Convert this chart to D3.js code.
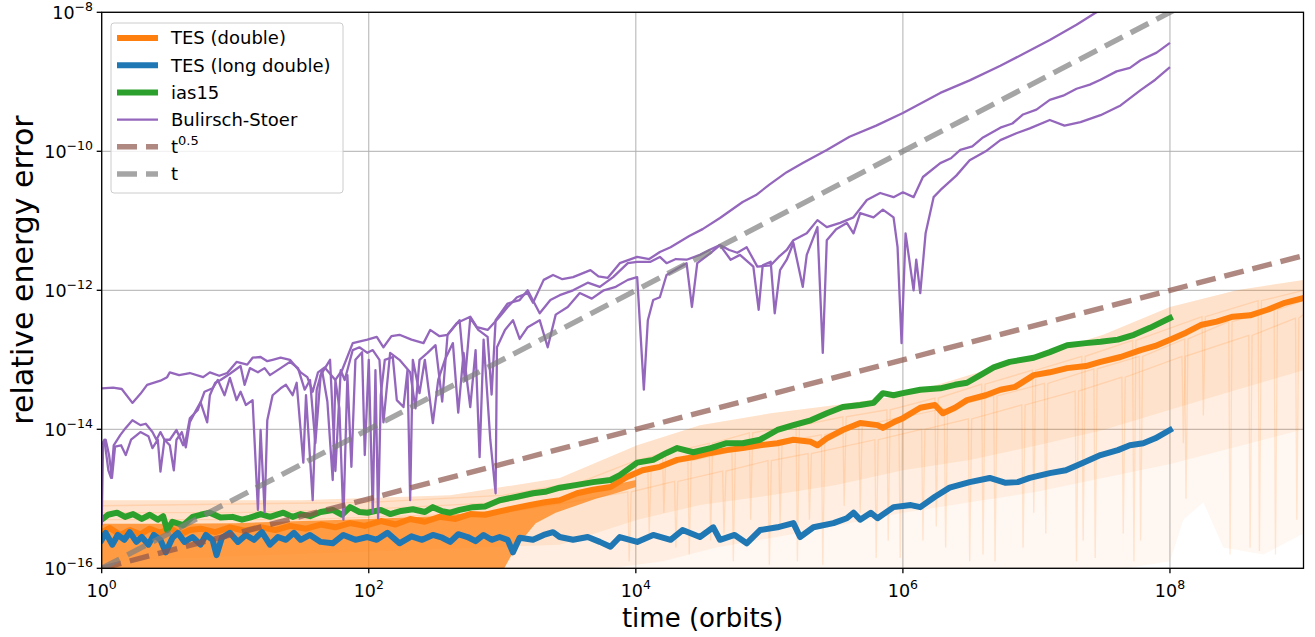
<!DOCTYPE html>
<html>
<head>
<meta charset="utf-8">
<script src="https://cdn.jsdelivr.net/npm/d3@7"></script>
<style>
  body { margin: 0; background: #fff; }
  svg { display: block; font-family: "DejaVu Sans", sans-serif; }
</style>
</head>
<body>
<svg width="1315" height="637"></svg>
<script>
// Data: [log10(time in orbits), log10(relative energy error)]

// Bulirsch-Stoer runs
const bsRun1 = [[0,-13.41],[0.085,-13.40],[0.15,-13.42],[0.23,-13.62],[0.29,-13.49],[0.34,-13.36],[0.44,-13.30],[0.49,-13.25],[0.51,-13.18],[0.58,-13.22],[0.66,-13.19],[0.76,-13.25],[0.81,-13.18],[0.88,-13.23],[0.94,-13.19],[1.01,-13.03],[1.09,-13.07],[1.13,-12.97],[1.19,-12.96],[1.24,-13.02],[1.28,-13.00],[1.34,-12.97],[1.41,-13.00],[1.49,-13.18],[1.54,-13.25],[1.58,-13.46],[1.62,-13.18],[1.67,-13.11],[1.75,-13.29],[1.80,-13.15],[1.88,-12.76],[1.99,-12.71],[2.06,-12.67],[2.11,-12.82],[2.17,-12.66],[2.23,-12.64],[2.32,-12.71],[2.41,-12.76],[2.46,-12.57],[2.53,-12.66],[2.59,-12.64],[2.66,-12.47],[2.76,-12.38],[2.81,-12.53],[2.89,-12.57],[2.98,-12.38],[3.04,-12.24],[3.11,-12.10],[3.19,-12.04],[3.23,-12.18],[3.31,-11.85],[3.38,-11.78],[3.45,-11.84],[3.53,-11.81],[3.66,-11.71],[3.72,-11.80],[3.79,-11.82],[3.88,-11.61],[4.01,-11.52],[4.10,-11.55],[4.18,-11.45],[4.26,-11.38],[4.40,-11.22],[4.50,-11.12],[4.63,-10.96],[4.80,-10.73],[4.90,-10.63],[5.00,-10.48],[5.13,-10.30],[5.25,-10.17],[5.43,-9.98],[5.60,-9.79],[5.80,-9.63],[6.00,-9.45],[6.28,-9.16],[6.50,-8.98],[6.73,-8.77],[6.90,-8.60],[7.10,-8.40],[7.30,-8.18],[7.44,-8.01],[7.63,-7.82]];

const bsRun2 = [[0,-14.23],[0.02,-14.15],[0.05,-14.59],[0.07,-14.70],[0.09,-14.23],[0.14,-14.08],[0.18,-13.98],[0.23,-13.87],[0.29,-13.94],[0.33,-13.92],[0.38,-14.04],[0.41,-14.15],[0.44,-14.04],[0.47,-14.15],[0.51,-14.23],[0.54,-14.59],[0.56,-14.15],[0.60,-14.04],[0.63,-14.26],[0.66,-13.90],[0.70,-13.75],[0.74,-13.61],[0.79,-13.90],[0.81,-13.51],[0.85,-13.33],[0.89,-13.29],[0.96,-13.20],[1.04,-13.09],[1.07,-13.36],[1.11,-13.12],[1.17,-13.18],[1.22,-13.12],[1.26,-13.22],[1.34,-13.12],[1.41,-13.03],[1.47,-13.12],[1.52,-13.43],[1.56,-13.29],[1.60,-14.20],[1.64,-13.22],[1.71,-13.00],[1.75,-14.60],[1.79,-13.15],[1.82,-13.29],[1.88,-12.86],[1.93,-12.82],[1.99,-12.90],[2.03,-12.86],[2.08,-13.00],[2.11,-13.90],[2.16,-12.90],[2.23,-13.00],[2.31,-13.18],[2.35,-13.70],[2.38,-13.00],[2.44,-12.90],[2.50,-12.79],[2.55,-13.60],[2.59,-12.64],[2.68,-12.43],[2.72,-13.30],[2.76,-12.40],[2.82,-12.57],[2.89,-12.67],[2.92,-13.50],[2.95,-12.43],[3.04,-12.19],[3.13,-12.14],[3.19,-12.00],[3.28,-12.33],[3.36,-12.14],[3.43,-12.07],[3.53,-12.00],[3.64,-11.89],[3.73,-11.95],[3.83,-11.81],[3.94,-11.61],[4.01,-11.59],[4.11,-11.59],[4.18,-11.52],[4.23,-11.61],[4.30,-11.55],[4.38,-11.56],[4.48,-11.49],[4.55,-11.42],[4.63,-11.35],[4.70,-11.42],[4.76,-11.46],[4.83,-11.38],[4.91,-11.66],[5.01,-11.64],[5.07,-11.52],[5.13,-11.42],[5.18,-11.28],[5.28,-11.18],[5.36,-10.99],[5.43,-11.09],[5.53,-11.03],[5.63,-10.95],[5.73,-10.70],[5.83,-10.60],[5.93,-10.66],[6.00,-10.59],[6.08,-10.66],[6.15,-10.37],[6.28,-10.17],[6.36,-10.10],[6.43,-9.98],[6.52,-9.93],[6.60,-9.80],[6.73,-9.66],[6.82,-9.60],[6.90,-9.47],[7.00,-9.40],[7.10,-9.26],[7.20,-9.20],[7.30,-9.10],[7.40,-9.04],[7.48,-8.97],[7.60,-8.85],[7.70,-8.80],[7.78,-8.69],[7.90,-8.58],[8.00,-8.44]];

const bsRun3 = [[0,-15.38],[0.01,-14.25],[0.03,-14.15],[0.055,-14.37],[0.077,-14.70],[0.10,-14.25],[0.145,-14.23],[0.18,-14.37],[0.22,-14.15],[0.29,-14.04],[0.35,-14.10],[0.38,-14.27],[0.42,-14.15],[0.44,-14.61],[0.47,-14.15],[0.51,-14.15],[0.56,-14.01],[0.61,-14.23],[0.63,-14.15],[0.66,-13.84],[0.72,-13.72],[0.77,-13.46],[0.83,-13.41],[0.87,-13.29],[0.92,-13.51],[0.96,-13.26],[1.01,-13.58],[1.04,-13.46],[1.08,-13.65],[1.13,-13.58],[1.17,-15.16],[1.19,-14.01],[1.22,-15.19],[1.24,-13.87],[1.28,-13.51],[1.34,-13.41],[1.38,-13.36],[1.43,-13.51],[1.46,-13.33],[1.51,-14.48],[1.53,-13.51],[1.58,-15.02],[1.61,-13.43],[1.65,-13.15],[1.69,-13.60],[1.73,-14.73],[1.75,-13.29],[1.78,-13.70],[1.81,-15.30],[1.84,-13.22],[1.87,-14.54],[1.90,-13.00],[1.95,-12.89],[1.97,-14.37],[2.00,-13.00],[2.03,-15.20],[2.05,-13.15],[2.07,-15.28],[2.09,-13.51],[2.12,-13.00],[2.18,-12.96],[2.21,-13.58],[2.26,-13.68],[2.29,-13.15],[2.31,-15.02],[2.33,-13.00],[2.38,-13.48],[2.42,-13.00],[2.48,-13.91],[2.52,-13.29],[2.57,-13.00],[2.63,-12.76],[2.67,-13.76],[2.71,-12.90],[2.76,-13.68],[2.80,-12.86],[2.83,-14.40],[2.86,-12.71],[2.91,-14.15],[2.95,-14.92],[2.96,-12.82],[3.02,-12.57],[3.08,-12.43],[3.13,-12.70],[3.19,-12.53],[3.28,-12.43],[3.34,-12.82],[3.40,-12.35],[3.49,-12.24],[3.58,-12.04],[3.67,-12.12],[3.76,-12.00],[3.85,-11.95],[3.94,-11.85],[4.01,-11.81],[4.06,-13.43],[4.09,-12.43],[4.13,-12.14],[4.18,-12.10],[4.23,-11.78],[4.30,-11.70],[4.38,-11.61],[4.42,-12.24],[4.46,-11.61],[4.55,-11.48],[4.63,-11.35],[4.71,-11.56],[4.78,-11.49],[4.88,-11.66],[4.92,-12.28],[4.95,-11.64],[5.01,-11.59],[5.04,-12.33],[5.08,-11.71],[5.13,-11.56],[5.18,-11.32],[5.25,-11.95],[5.28,-11.49],[5.36,-11.09],[5.40,-12.90],[5.43,-11.28],[5.50,-11.12],[5.58,-11.03],[5.63,-11.18],[5.68,-10.89],[5.78,-10.95],[5.85,-10.84],[5.93,-10.95],[5.96,-11.38],[5.99,-12.76],[6.02,-11.18],[6.08,-12.00],[6.10,-11.56],[6.13,-12.04],[6.17,-11.18],[6.23,-10.66],[6.28,-10.56],[6.40,-10.35],[6.50,-10.13],[6.62,-10.00],[6.73,-9.84],[6.85,-9.74],[6.95,-9.67],[7.10,-9.55],[7.21,-9.63],[7.33,-9.58],[7.48,-9.48],[7.63,-9.34],[7.78,-9.12],[7.89,-8.97],[8.00,-8.79]];

// ias15
const ias15 = [[0,-15.30],[0.047,-15.23],[0.115,-15.20],[0.175,-15.26],[0.235,-15.22],[0.30,-15.29],[0.36,-15.23],[0.42,-15.30],[0.46,-15.25],[0.49,-15.45],[0.53,-15.33],[0.61,-15.38],[0.68,-15.26],[0.74,-15.23],[0.81,-15.20],[0.89,-15.27],[0.98,-15.26],[1.05,-15.30],[1.11,-15.27],[1.19,-15.22],[1.26,-15.26],[1.36,-15.20],[1.43,-15.26],[1.49,-15.22],[1.56,-15.25],[1.64,-15.19],[1.73,-15.16],[1.80,-15.23],[1.86,-15.12],[1.93,-15.19],[1.99,-15.20],[2.09,-15.16],[2.16,-15.22],[2.23,-15.18],[2.33,-15.15],[2.42,-15.19],[2.48,-15.12],[2.55,-15.18],[2.61,-15.20],[2.68,-15.16],[2.78,-15.12],[2.87,-15.11],[2.98,-15.02],[3.11,-14.97],[3.23,-14.92],[3.32,-14.90],[3.43,-14.84],[3.56,-14.80],[3.68,-14.76],[3.81,-14.73],[3.88,-14.66],[4.01,-14.48],[4.13,-14.44],[4.23,-14.34],[4.31,-14.27],[4.43,-14.33],[4.56,-14.27],[4.68,-14.20],[4.80,-14.20],[4.93,-14.15],[5.06,-14.01],[5.18,-13.94],[5.31,-13.87],[5.43,-13.77],[5.55,-13.68],[5.68,-13.65],[5.78,-13.62],[5.85,-13.48],[5.93,-13.51],[6.00,-13.48],[6.13,-13.43],[6.28,-13.41],[6.39,-13.36],[6.48,-13.33],[6.58,-13.22],[6.68,-13.11],[6.80,-13.03],[6.98,-12.97],[7.10,-12.89],[7.23,-12.79],[7.37,-12.76],[7.48,-12.74],[7.61,-12.71],[7.73,-12.64],[7.85,-12.54],[8.00,-12.40]];

// TES (long double)
const tesLongDouble = [[0,-15.59],[0.03,-15.49],[0.08,-15.66],[0.12,-15.52],[0.17,-15.59],[0.21,-15.48],[0.26,-15.62],[0.30,-15.55],[0.35,-15.66],[0.39,-15.52],[0.44,-15.59],[0.48,-15.77],[0.53,-15.56],[0.57,-15.49],[0.62,-15.62],[0.68,-15.55],[0.74,-15.66],[0.78,-15.52],[0.83,-15.59],[0.86,-15.81],[0.90,-15.56],[0.96,-15.49],[1.02,-15.62],[1.08,-15.52],[1.14,-15.59],[1.20,-15.48],[1.26,-15.66],[1.32,-15.55],[1.38,-15.59],[1.44,-15.49],[1.49,-15.59],[1.56,-15.52],[1.64,-15.62],[1.73,-15.64],[1.81,-15.52],[1.90,-15.59],[1.99,-15.55],[2.06,-15.59],[2.14,-15.49],[2.23,-15.64],[2.32,-15.54],[2.40,-15.59],[2.48,-15.52],[2.55,-15.56],[2.61,-15.62],[2.67,-15.51],[2.74,-15.55],[2.80,-15.61],[2.86,-15.52],[2.92,-15.59],[2.98,-15.55],[3.04,-15.59],[3.08,-15.77],[3.13,-15.56],[3.23,-15.59],[3.31,-15.52],[3.38,-15.48],[3.43,-15.55],[3.53,-15.59],[3.64,-15.55],[3.73,-15.62],[3.81,-15.69],[3.88,-15.55],[4.01,-15.62],[4.13,-15.52],[4.26,-15.59],[4.35,-15.45],[4.48,-15.55],[4.58,-15.41],[4.63,-15.59],[4.74,-15.52],[4.83,-15.64],[4.93,-15.45],[5.06,-15.41],[5.18,-15.35],[5.23,-15.55],[5.33,-15.41],[5.48,-15.35],[5.58,-15.28],[5.63,-15.20],[5.68,-15.30],[5.76,-15.20],[5.81,-15.28],[5.93,-15.12],[6.06,-15.09],[6.13,-15.12],[6.24,-14.97],[6.35,-14.84],[6.50,-14.76],[6.65,-14.70],[6.77,-14.77],[6.86,-14.76],[6.95,-14.70],[7.10,-14.63],[7.22,-14.59],[7.35,-14.48],[7.48,-14.37],[7.61,-14.30],[7.70,-14.23],[7.80,-14.20],[7.89,-14.13],[8.00,-14.01]];

// TES (double): median run, the dense envelope of its early jitter, and the faint individual runs
const tesDouble = [[0,-15.48],[0.06,-15.42],[0.14,-15.52],[0.21,-15.45],[0.29,-15.51],[0.36,-15.43],[0.44,-15.49],[0.51,-15.42],[0.59,-15.51],[0.66,-15.45],[0.74,-15.43],[0.85,-15.48],[0.96,-15.41],[1.07,-15.46],[1.19,-15.41],[1.30,-15.45],[1.41,-15.39],[1.53,-15.43],[1.64,-15.37],[1.75,-15.41],[1.86,-15.35],[1.97,-15.39],[2.09,-15.32],[2.20,-15.37],[2.31,-15.29],[2.42,-15.33],[2.53,-15.26],[2.65,-15.29],[2.76,-15.22],[2.87,-15.23],[2.98,-15.18],[3.10,-15.13],[3.21,-15.09],[3.32,-15.05],[3.43,-15.02],[3.56,-14.92],[3.68,-14.87],[3.81,-14.83],[3.93,-14.69],[4.05,-14.59],[4.18,-14.54],[4.31,-14.44],[4.43,-14.40],[4.56,-14.34],[4.68,-14.30],[4.80,-14.27],[4.93,-14.23],[5.06,-14.20],[5.18,-14.15],[5.31,-14.18],[5.36,-14.23],[5.43,-14.13],[5.55,-14.01],[5.68,-13.91],[5.81,-13.94],[5.85,-13.98],[5.93,-13.90],[6.00,-13.84],[6.13,-13.69],[6.24,-13.65],[6.30,-13.77],[6.39,-13.69],[6.48,-13.58],[6.62,-13.51],[6.73,-13.43],[6.84,-13.39],[6.98,-13.22],[7.10,-13.18],[7.23,-13.12],[7.37,-13.09],[7.48,-13.03],[7.63,-12.96],[7.78,-12.86],[7.89,-12.80],[8.00,-12.71],[8.12,-12.61],[8.23,-12.50],[8.35,-12.45],[8.47,-12.38],[8.60,-12.36],[8.73,-12.28],[8.86,-12.18],[9.00,-12.11]];

const tesDoubleBandHi = [[0,-15.36],[0.5,-15.36],[1,-15.35],[1.5,-15.32],[2,-15.29],[2.5,-15.25],[3,-15.16],[3.2,-15.11],[3.4,-15.02],[3.55,-14.95],[3.7,-14.87],[3.85,-14.79],[4,-14.73]];
const tesDoubleBandLo = [[0,-16.05],[3,-16.05],[3.1,-15.7],[3.25,-15.35],[3.4,-15.2],[3.55,-15.1],[3.7,-15.0],[3.85,-14.92],[4,-14.83]];

const faintUpper = [[0,-15.02],[1.49,-15.02],[2.61,-14.95],[3.43,-14.70],[4.01,-14.23],[4.48,-13.94],[5.01,-13.77],[5.50,-13.65],[6.00,-13.51],[6.50,-13.22],[7.01,-12.93],[7.50,-12.64],[8.00,-12.24],[8.50,-12.00],[9.00,-11.85]];
const faintLowerOuter = [[0,-16.05],[7.5,-16.05],[8.0,-15.9],[8.1,-15.3],[8.25,-15.05],[8.4,-15.7],[8.7,-15.8],[9.0,-15.5]];
const faintLowerMid = [[0,-16.05],[3.6,-16.05],[4.2,-15.9],[4.6,-15.7],[5.2,-15.5],[6.0,-15.2],[7.0,-14.9],[8.0,-14.5],[9.0,-14.0]];
const faintLowerInner = [[0,-15.9],[3.43,-15.66],[4.01,-15.30],[4.48,-15.09],[5.01,-14.95],[5.50,-14.80],[6.00,-14.59],[6.50,-14.44],[7.01,-14.23],[7.50,-14.01],[8.00,-13.72],[8.50,-13.43],[9.00,-13.15]];

const faintRunA = [[0,-15.2],[1,-15.2],[2,-15.15],[3,-15.05],[3.5,-14.85],[3.9,-14.65],[4.09,-14.55],[4.10,-15.5],[4.115,-14.55],[4.39,-14.45],[4.40,-15.8],[4.415,-14.45],[4.72,-14.32],[4.73,-15.9],[4.745,-14.32],[5.07,-14.18],[5.08,-15.4],[5.095,-14.18],[5.39,-14.08],[5.40,-15.95],[5.415,-14.08],[5.67,-13.95],[5.68,-15.2],[5.695,-13.95],[5.97,-13.83],[5.98,-15.85],[5.995,-13.83],[6.31,-13.70],[6.32,-15.7],[6.335,-13.70],[6.68,-13.52],[6.69,-15.9],[6.705,-13.52],[7.06,-13.34],[7.07,-15.5],[7.085,-13.34],[7.43,-13.13],[7.44,-15.85],[7.455,-13.13],[7.77,-12.95],[7.78,-15.6],[7.795,-12.95],[8.11,-12.70],[8.12,-15.0],[8.135,-12.70],[8.44,-12.45],[8.45,-15.8],[8.465,-12.45],[8.78,-12.28],[8.79,-15.8],[8.805,-12.28],[9.0,-12.15]];
const faintRunB = [[0,-15.3],[1.5,-15.3],[3,-15.2],[3.5,-15.05],[3.94,-14.9],[3.95,-15.9],[3.965,-14.9],[4.29,-14.75],[4.30,-15.7],[4.315,-14.75],[4.65,-14.6],[4.66,-15.5],[4.675,-14.6],[4.99,-14.45],[5.00,-15.95],[5.015,-14.45],[5.29,-14.35],[5.30,-15.3],[5.315,-14.35],[5.79,-14.15],[5.80,-15.85],[5.815,-14.15],[6.14,-14.0],[6.15,-15.6],[6.165,-14.0],[6.49,-13.85],[6.50,-15.9],[6.515,-13.85],[6.89,-13.65],[6.90,-15.7],[6.915,-13.65],[7.29,-13.45],[7.30,-15.9],[7.315,-13.45],[7.64,-13.25],[7.65,-15.5],[7.665,-13.25],[8.09,-12.95],[8.10,-14.2],[8.115,-12.95],[8.59,-12.65],[8.60,-15.7],[8.615,-12.65],[8.94,-12.4],[8.95,-15.3],[8.965,-12.4],[9.0,-12.35]];
const faintRunC = [[0,-15.1],[2,-15.05],[3,-14.95],[3.6,-14.75],[4.0,-14.45],[4.2,-14.35],[4.21,-15.2],[4.225,-14.35],[4.55,-14.2],[4.56,-15.6],[4.575,-14.2],[4.85,-14.05],[4.86,-15.3],[4.875,-14.05],[5.2,-13.95],[5.21,-15.9],[5.225,-13.95],[5.55,-13.82],[5.56,-15.1],[5.575,-13.82],[5.88,-13.72],[5.89,-15.6],[5.905,-13.72],[6.24,-13.55],[6.25,-15.4],[6.265,-13.55],[6.59,-13.35],[6.60,-15.8],[6.615,-13.35],[6.97,-13.15],[6.98,-15.2],[6.995,-13.15],[7.34,-12.95],[7.35,-15.6],[7.365,-12.95],[7.72,-12.72],[7.73,-15.9],[7.745,-12.72],[8.24,-12.38],[8.25,-13.8],[8.265,-12.38],[8.66,-12.15],[8.67,-15.75],[8.685,-12.15],[9.0,-12.0]];

// reference slopes (two points per power law)
const refT = [1, 1e9];
const refSqrt = [1e-16, 3.16e-12];
const refLinear = [1e-16, 1e-7];

// ticks (decade exponents)
const xTicks = [0, 2, 4, 6, 8];
const yTicks = [-16, -14, -12, -10, -8];

// ---------------------------------------------------------------

const svg = d3.select('svg');
const plotLeft = 101.7, plotRight = 1303.5, plotTop = 12.3, plotBottom = 568.3;

const x = d3.scaleLog().domain([1, 1e9]).range([plotLeft, plotRight]);
const y = d3.scaleLog().domain([1e-16, 1e-8]).range([plotBottom, plotTop]);

const orange = '#ff7f0e', blue = '#1f77b4', green = '#2ca02c', purple = '#9467bd';
const brownA = 'rgba(140,86,75,0.7)', greyA = 'rgba(127,127,127,0.7)';
const thickW = 6;

const toVals = arr => arr.map(([a, b]) => [Math.pow(10, a), Math.pow(10, b)]);
const line = d3.line().x(d => x(d[0])).y(d => y(d[1]));

// grid
svg.append('g').selectAll('line').data(xTicks).enter().append('line')
    .attr('x1', d => x(Math.pow(10, d))).attr('x2', d => x(Math.pow(10, d)))
    .attr('y1', plotTop).attr('y2', plotBottom)
    .attr('stroke', '#b0b0b0').attr('stroke-width', 1);
svg.append('g').selectAll('line').data(yTicks).enter().append('line')
    .attr('y1', d => y(Math.pow(10, d))).attr('y2', d => y(Math.pow(10, d)))
    .attr('x1', plotLeft).attr('x2', plotRight)
    .attr('stroke', '#b0b0b0').attr('stroke-width', 1);

svg.append('clipPath').attr('id', 'plot')
    .append('rect').attr('x', plotLeft).attr('y', plotTop)
    .attr('width', plotRight - plotLeft).attr('height', plotBottom - plotTop);

const plot = svg.append('g').attr('clip-path', 'url(#plot)');

function region(upper, lower, fill, opacity) {
    const pts = toVals(upper).concat(toVals(lower).reverse());
    plot.append('path')
        .attr('d', line(pts) + 'Z')
        .attr('fill', fill).attr('fill-opacity', opacity);
}

// faint individual TES (double) runs
region(faintUpper, faintLowerOuter, orange, 0.06);
region(faintUpper, faintLowerMid, orange, 0.07);
region(faintUpper, faintLowerInner, orange, 0.1);
[faintRunA, faintRunB, faintRunC].forEach(r => {
    plot.append('path').attr('d', line(toVals(r)))
        .attr('fill', 'none').attr('stroke', orange)
        .attr('stroke-opacity', 0.16).attr('stroke-width', 1.3);
});
region(tesDoubleBandHi, tesDoubleBandLo, orange, 0.72);

function thick(data, color) {
    plot.append('path').attr('d', line(toVals(data)))
        .attr('fill', 'none').attr('stroke', color)
        .attr('stroke-width', thickW).attr('stroke-linejoin', 'round')
        .attr('stroke-linecap', 'square');
}
thick(tesDouble, orange);
thick(tesLongDouble, blue);
thick(ias15, green);

[bsRun1, bsRun2, bsRun3].forEach(r => {
    plot.append('path').attr('d', line(toVals(r)))
        .attr('fill', 'none').attr('stroke', purple)
        .attr('stroke-width', 2.3).attr('stroke-linejoin', 'round');
});

function dashed(vals, color) {
    plot.append('path').attr('d', line(refT.map((t, i) => [t, vals[i]])))
        .attr('fill', 'none').attr('stroke', color)
        .attr('stroke-width', 5.4).attr('stroke-dasharray', '20,9');
}
dashed(refSqrt, brownA);
dashed(refLinear, greyA);

// frame
svg.append('rect').attr('x', plotLeft).attr('y', plotTop)
    .attr('width', plotRight - plotLeft).attr('height', plotBottom - plotTop)
    .attr('fill', 'none').attr('stroke', '#000').attr('stroke-width', 1.3);

// ticks + labels
const xt = svg.append('g');
xTicks.forEach(p => {
    const px = x(Math.pow(10, p));
    xt.append('line').attr('x1', px).attr('x2', px).attr('y1', plotBottom).attr('y2', plotBottom + 5)
        .attr('stroke', '#000').attr('stroke-width', 1.3);
    const t = xt.append('text').attr('x', px).attr('y', 597)
        .attr('text-anchor', 'middle').attr('font-size', 17.5).attr('fill', '#000');
    t.append('tspan').text('10');
    t.append('tspan').attr('dy', -8).attr('font-size', 12.5).text(String(p));
});
const yt = svg.append('g');
yTicks.forEach(p => {
    const py = y(Math.pow(10, p));
    yt.append('line').attr('x1', plotLeft - 5).attr('x2', plotLeft).attr('y1', py).attr('y2', py)
        .attr('stroke', '#000').attr('stroke-width', 1.3);
    const t = yt.append('text').attr('x', 93).attr('y', py + 6.3)
        .attr('text-anchor', 'end').attr('font-size', 17.5).attr('fill', '#000');
    t.append('tspan').text('10');
    t.append('tspan').attr('dy', -8).attr('font-size', 12.5).text('\u2212' + String(-p));
});

svg.append('text').attr('x', (plotLeft + plotRight) / 2).attr('y', 627)
    .attr('text-anchor', 'middle').attr('font-size', 26).text('time (orbits)');
svg.append('text').attr('transform', 'translate(33,270) rotate(-90)')
    .attr('text-anchor', 'middle').attr('font-size', 30).text('relative energy error');

// legend
const legendItems = [
    { label: 'TES (double)', color: orange, width: thickW },
    { label: 'TES (long double)', color: blue, width: thickW },
    { label: 'ias15', color: green, width: thickW },
    { label: 'Bulirsch-Stoer', color: purple, width: 2.3 },
    { label: 't', sup: '0.5', color: brownA, width: 5.4, dash: '20,9' },
    { label: 't', color: greyA, width: 5.4, dash: '20,9' }
];
const lg = svg.append('g');
lg.append('rect').attr('x', 111).attr('y', 23).attr('width', 232).attr('height', 170)
    .attr('rx', 3).attr('fill', '#fff').attr('fill-opacity', 0.8)
    .attr('stroke', '#cccccc').attr('stroke-width', 1);
legendItems.forEach((d, i) => {
    const ly = 38 + i * 27.2;
    lg.append('line').attr('x1', 117).attr('x2', 158).attr('y1', ly).attr('y2', ly)
        .attr('stroke', d.color).attr('stroke-width', d.width)
        .attr('stroke-dasharray', d.dash || null);
    const t = lg.append('text').attr('x', 171).attr('y', ly + 6.4)
        .attr('font-size', 18).attr('fill', '#000');
    t.append('tspan').text(d.label);
    if (d.sup) t.append('tspan').attr('dy', -8).attr('font-size', 13).text(d.sup);
});
</script>
</body>
</html>
